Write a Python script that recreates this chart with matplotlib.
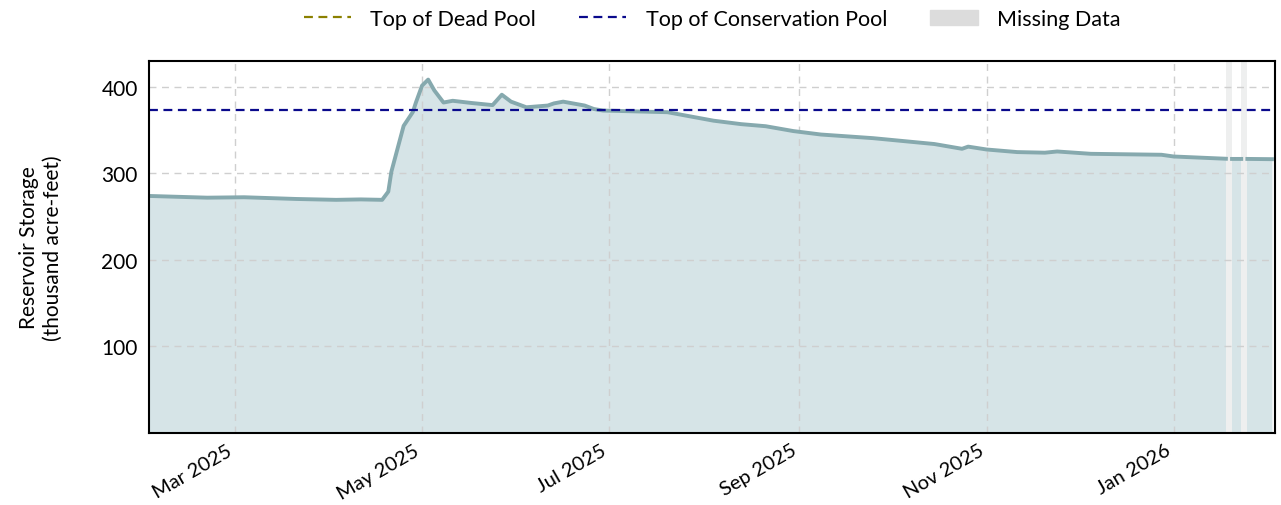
import numpy as np
import pandas as pd
import matplotlib
matplotlib.use("Agg")
import matplotlib.pyplot as plt
import matplotlib.dates as mdates
from matplotlib.lines import Line2D
from matplotlib.patches import Patch

plt.rcParams['font.family'] = ['Lato', 'DejaVu Sans']

# storage readings (thousand acre-feet), NaN = missing
dates = pd.to_datetime([
    "2025-02-01", "2025-02-20", "2025-03-04", "2025-03-21", "2025-04-03",
    "2025-04-11", "2025-04-18", "2025-04-20", "2025-04-21", "2025-04-23",
    "2025-04-25", "2025-04-28", "2025-04-29", "2025-05-01", "2025-05-03",
    "2025-05-05", "2025-05-08", "2025-05-11", "2025-05-17", "2025-05-24",
    "2025-05-27", "2025-05-30", "2025-06-04", "2025-06-11", "2025-06-13",
    "2025-06-16", "2025-06-23", "2025-06-26", "2025-06-29", "2025-07-20",
    "2025-08-04", "2025-08-13", "2025-08-21", "2025-08-30", "2025-09-08",
    "2025-09-25", "2025-10-15", "2025-10-24", "2025-10-26", "2025-11-01",
    "2025-11-11", "2025-11-20", "2025-11-24", "2025-12-05", "2025-12-28",
    "2026-01-01", "2026-01-18", "2026-01-19", "2026-01-20", "2026-01-23",
    "2026-01-24", "2026-01-25", "2026-02-02",
])
storage = np.array([
    274, 272, 272.5, 270.5, 269.5,
    270, 269.5, 279, 302, 328.5,
    355, 371, 382, 401.5, 408.5,
    396, 382, 384, 381.5, 379,
    391, 383, 376.5, 378.5, 381,
    383, 378.5, 374.5, 372.7, 370.8,
    361, 357, 354.6, 349, 345,
    340.8, 334, 328.5, 331, 327.7,
    324.7, 324, 325.4, 322.7, 321.6,
    319.6, 317, np.nan, 316.8, 316.8,
    np.nan, 316.8, 316.5,
])

missing_start = pd.to_datetime(["2026-01-18", "2026-01-23"])
missing_end = pd.to_datetime(["2026-01-20", "2026-01-25"])

conservation_pool = 373
dead_pool = 0

fig = plt.figure(figsize=(12.81, 5.06), dpi=100)
ax = fig.add_axes([0.1163, 0.1423, 0.879, 0.7352])

ok = ~np.isnan(storage)
ax.fill_between(dates[ok], 0, storage[ok], color="#d6e4e7", lw=0, zorder=1)
for s, e in zip(missing_start, missing_end):
    ax.axvspan(s, e, color="#eeefef", lw=0, zorder=2)
ax.plot(dates, storage, color="#86a9ae", lw=2.8, zorder=3)
ax.axhline(conservation_pool, color="#0a0a8c", ls="--", lw=1.6, dashes=(4, 2.5), zorder=4)

ax.set_xlim(pd.Timestamp("2025-02-01"), pd.Timestamp("2026-02-03"))
ax.set_ylim(0, 430)
ax.set_yticks([100, 200, 300, 400])
ax.xaxis.set_major_locator(mdates.MonthLocator(bymonth=[1, 3, 5, 7, 9, 11]))
ax.xaxis.set_major_formatter(mdates.DateFormatter("%b %Y"))
plt.setp(ax.get_xticklabels(), rotation=30, ha="right")
ax.tick_params(length=0, labelsize=15, pad=8)
ax.tick_params(axis="x", labelsize=14.5, pad=6)

ax.grid(True, ls="--", color="#cfcfcf", lw=1, dashes=(5, 4))
ax.set_axisbelow(False)
for sp in ax.spines.values():
    sp.set_linewidth(1.5)
    sp.set_zorder(5)

ax.set_ylabel("Reservoir Storage\n(thousand acre-feet)", fontsize=15, labelpad=28)

handles = [
    Line2D([0], [0], color="#8b8000", ls="--", lw=1.6, dashes=(4, 2.5)),
    Line2D([0], [0], color="#0a0a8c", ls="--", lw=1.6, dashes=(4, 2.5)),
    Patch(color="#dcdcdc"),
]
ax.legend(handles, ["Top of Dead Pool", "Top of Conservation Pool", "Missing Data"],
          loc="lower center", bbox_to_anchor=(0.5, 1.035), ncol=3, frameon=False,
          fontsize=15.5, columnspacing=2.0, handlelength=2.2, handletextpad=0.9)

fig.savefig("out.png", dpi=100)
